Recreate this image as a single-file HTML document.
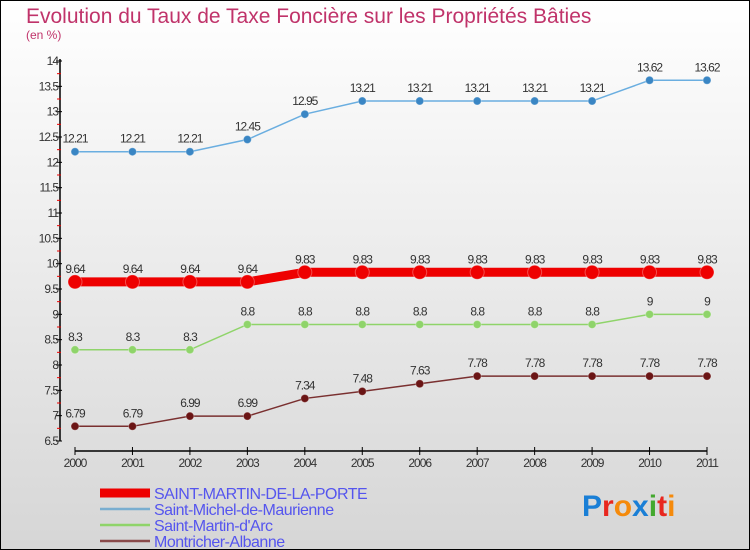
<!DOCTYPE html>
<html><head><meta charset="utf-8"><style>
body{margin:0;}
#c{width:750px;height:550px;position:relative;box-sizing:border-box;border:1px solid #000;background:linear-gradient(#ffffff,#d6d6d6);font-family:"Liberation Sans",sans-serif;overflow:hidden}
</style></head><body>
<div id="c">
<svg id="s" width="750" height="550" style="position:absolute;left:-1px;top:-1px">
<text x="26" y="23" font-size="21" fill="#c0336a">Evolution du Taux de Taxe Foncière sur les Propriétés Bâties</text>
<text x="26" y="39" font-size="12" fill="#c0336a">(en %)</text>
<g id="axes"></g><g id="series"></g><g id="legend"></g>
<text x="582" y="516" font-size="30" font-weight="bold"><tspan fill="#1a7fd6">P</tspan><tspan fill="#e8271f">r</tspan><tspan fill="#f58a0b">o</tspan><tspan fill="#1a7fd6">x</tspan><tspan fill="#43a82e">i</tspan><tspan fill="#e8271f">t</tspan><tspan fill="#f58a0b">i</tspan></text>
</svg></div>
<script>
const years=[2000,2001,2002,2003,2004,2005,2006,2007,2008,2009,2010,2011];
const yTicks=[6.5,7,7.5,8,8.5,9,9.5,10,10.5,11,11.5,12,12.5,13,13.5,14];
const names=["SAINT-MARTIN-DE-LA-PORTE","Saint-Michel-de-Maurienne","Saint-Martin-d'Arc","Montricher-Albanne"];
const sMartinPorte=[9.64,9.64,9.64,9.64,9.83,9.83,9.83,9.83,9.83,9.83,9.83,9.83];
const sMichel=[12.21,12.21,12.21,12.45,12.95,13.21,13.21,13.21,13.21,13.21,13.62,13.62];
const sMartinArc=[8.3,8.3,8.3,8.8,8.8,8.8,8.8,8.8,8.8,8.8,9,9];
const montricher=[6.79,6.79,6.99,6.99,7.34,7.48,7.63,7.78,7.78,7.78,7.78,7.78];
const NS="http://www.w3.org/2000/svg";
const X=i=>75+i*(707-75)/(years.length-1);
const Y=v=>61+(14-v)*(441-61)/7.5;
function mk(t,a,p){const e=document.createElementNS(NS,t);for(const k in a)e.setAttribute(k,a[k]);p.appendChild(e);return e;}
const ax=document.getElementById('axes');
let e=mk('line',{x1:60,y1:Y(14)-2,x2:60,y2:Y(6.5),stroke:'#000','stroke-width':1.5},ax);


e=mk('line',{x1:X(0),y1:451,x2:X(11),y2:451,stroke:'#000','stroke-width':1.5},ax);


yTicks.forEach((v,i)=>{
 mk('line',{x1:56,x2:62,y1:Y(v),y2:Y(v),stroke:'#000'},ax);
 if(i<yTicks.length-1)mk('line',{x1:57,x2:61,y1:Y(v+0.25),y2:Y(v+0.25),stroke:'#e00'},ax);
 const t=mk('text',{x:58,y:Y(v)+4,'font-size':12,'text-anchor':'end',fill:'#333','letter-spacing':'-1'},ax);
 t.textContent=String(v);
 
 
});
years.forEach((y,i)=>{
 mk('line',{x1:X(i),x2:X(i),y1:447,y2:455,stroke:'#000'},ax);
 const t=mk('text',{x:X(i),y:467,'font-size':12,'text-anchor':'middle',fill:'#333','letter-spacing':'-1'},ax);
 t.textContent=String(y);
 
 
});
const sg=document.getElementById('series');
const defs=[[montricher,'#7a3030','#6b1515',1.5,4,'montricher-albanne'],[sMartinArc,'#8fd46a','#8fd46a',1.5,4,'saint-martin-d-arc'],[sMichel,'#6aaee0','#3a86c4',1.5,4,'saint-michel-de-maurienne'],[sMartinPorte,'#ee0000','#ee0000',9,7,'saint-martin-de-la-porte']];
defs.forEach(([d,lc,pc,w,r,n])=>{
 const g=mk('g',{},sg);
 
 
 const p=mk('polyline',{points:d.map((v,i)=>X(i)+','+Y(v)).join(' '),fill:'none',stroke:lc,'stroke-width':w},g);
 
 
 d.forEach((v,i)=>{
  const c=mk('circle',{cx:X(i),cy:Y(v),r:r,fill:pc,stroke:'#fff','stroke-opacity':0.3},g);
  
  
  const t=mk('text',{x:X(i),y:Y(v)-9,'font-size':12,'text-anchor':'middle',fill:'#333','letter-spacing':'-1'},g);
  t.textContent=String(v);
  
  
 });
});
const lg=document.getElementById('legend');
const lcol=['#ee0000','#7aaed0','#8fd46a','#8a4a4a'],lw=[9,2.5,2.5,2.5];
names.forEach((n,i)=>{
 const y=493+i*16;
 const l=mk('line',{x1:100,x2:150,y1:y,y2:y,stroke:lcol[i],'stroke-width':lw[i]},lg);
 
 
 const t=mk('text',{x:154,y:y+6,'font-size':16,fill:'#5555ee','letter-spacing':'-0.5'},lg);
 t.textContent=n;
 
 
});
</script>
</body></html>
